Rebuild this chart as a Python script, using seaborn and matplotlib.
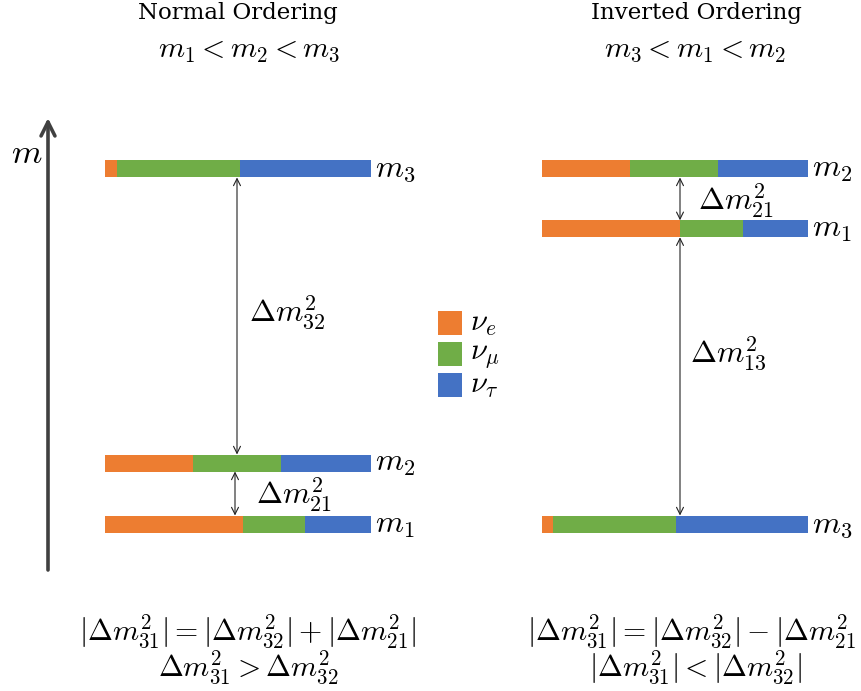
import matplotlib
matplotlib.use("Agg")
import matplotlib.pyplot as plt
import seaborn as sns
from matplotlib.patches import Rectangle

# ---------------- data ----------------
flavor_labels = [r"$\nu_e$", r"$\nu_\mu$", r"$\nu_\tau$"]
flavor_colors = ["#ED7D31", "#70AD47", "#4472C4"]

# Normal ordering: states and relative mass levels
normal_states = ["m_1", "m_2", "m_3"]
normal_levels = [0.0, 1.0, 5.82]
normal_nu_e = [0.52, 0.33, 0.046]
normal_nu_mu = [0.23, 0.33, 0.46]
normal_nu_tau = [0.25, 0.34, 0.494]

# Inverted ordering
inverted_states = ["m_3", "m_1", "m_2"]
inverted_levels = [0.0, 4.84, 5.82]
inverted_nu_e = [0.04, 0.52, 0.33]
inverted_nu_mu = [0.465, 0.235, 0.33]
inverted_nu_tau = [0.495, 0.245, 0.34]

# ---------------- style ----------------
sns.set_theme(style="white")
plt.rcParams["mathtext.fontset"] = "cm"
plt.rcParams["font.family"] = ["DejaVu Serif", "DejaVu Sans"]
plt.rcParams["text.color"] = "black"

fig = plt.figure(figsize=(8.61, 6.91), dpi=100)
ax = fig.add_axes([0, 0, 1, 1])
PX = 61.0  # pixels per level unit
Y0 = 524.0


def Y(py):
    return (Y0 - py) / PX


ax.set_xlim(0, 861)
ax.set_ylim(Y(691), Y(0))
ax.axis("off")

BAR_W = 266.0
BAR_H = 17.0 / PX


def draw_panel(x0, states, levels, fe, fm, ft):
    for i, (st, lv) in enumerate(zip(states, levels)):
        left = x0
        for frac, col in zip([fe[i], fm[i], ft[i]], flavor_colors):
            ax.barh(lv, frac * BAR_W, left=left, height=BAR_H, color=col,
                    edgecolor="none", linewidth=0)
            left += frac * BAR_W
        ax.text(x0 + BAR_W + 4, lv, rf"${st}$", fontsize=23, ha="left",
                va="center", color="black")


draw_panel(105, normal_states, normal_levels, normal_nu_e, normal_nu_mu, normal_nu_tau)
draw_panel(542, inverted_states, inverted_levels, inverted_nu_e, inverted_nu_mu, inverted_nu_tau)


def darrow(x, y_lo, y_hi):
    ax.annotate("", xy=(x, y_hi - BAR_H / 2), xytext=(x, y_lo + BAR_H / 2),
                arrowprops=dict(arrowstyle="<->,head_length=0.5,head_width=0.25",
                                color="#222222", lw=0.8, shrinkA=0, shrinkB=0,
                                mutation_scale=10))


# normal
darrow(237, normal_levels[1], normal_levels[2])
darrow(235, normal_levels[0], normal_levels[1])
# inverted
darrow(680, inverted_levels[1], inverted_levels[2])
darrow(680, inverted_levels[0], inverted_levels[1])

# delta labels
ax.text(249, Y(313), r"$\Delta m^2_{32}$", fontsize=22.5, ha="left", va="center")
ax.text(256, Y(495), r"$\Delta m^2_{21}$", fontsize=22.5, ha="left", va="center")
ax.text(698, Y(201), r"$\Delta m^2_{21}$", fontsize=22.5, ha="left", va="center")
ax.text(690, Y(354), r"$\Delta m^2_{13}$", fontsize=22.5, ha="left", va="center")

# mass axis arrow
ax.annotate("", xy=(48, Y(118)), xytext=(48, Y(570)),
            arrowprops=dict(arrowstyle="->,head_length=1.0,head_width=0.5",
                            color="#404040", lw=2.6, shrinkA=0, shrinkB=0,
                            mutation_scale=10))
ax.text(27, Y(153), r"$m$", fontsize=25, ha="center", va="center")

# legend squares
for k, (lab, col) in enumerate(zip(flavor_labels, flavor_colors)):
    yc = 323 + 31 * k
    ax.add_patch(Rectangle((438, Y(yc + 12)), 24, 24 / PX, color=col, lw=0))
    ax.text(470, Y(yc), lab, fontsize=22, ha="left", va="center")

# titles
ax.text(238, Y(13), "Normal Ordering", fontsize=16.5, ha="center", va="center")
ax.text(249, Y(50), r"$m_1 < m_2 < m_3$", fontsize=21.5, ha="center", va="center")
ax.text(696, Y(13), "Inverted Ordering", fontsize=16.5, ha="center", va="center")
ax.text(695, Y(50), r"$m_3 < m_1 < m_2$", fontsize=21.5, ha="center", va="center")

# bottom relations
ax.text(248, Y(631), r"$|\Delta m^2_{31}| = |\Delta m^2_{32}| + |\Delta m^2_{21}|$",
        fontsize=21.5, ha="center", va="center")
ax.text(248, Y(667), r"$\Delta m^2_{31} > \Delta m^2_{32}$",
        fontsize=21.5, ha="center", va="center")
ax.text(696, Y(631), r"$|\Delta m^2_{31}| = |\Delta m^2_{32}| - |\Delta m^2_{21}|$",
        fontsize=21.5, ha="center", va="center")
ax.text(696, Y(667), r"$|\Delta m^2_{31}| < |\Delta m^2_{32}|$",
        fontsize=21.5, ha="center", va="center")

fig.savefig("out.png", dpi=100)
